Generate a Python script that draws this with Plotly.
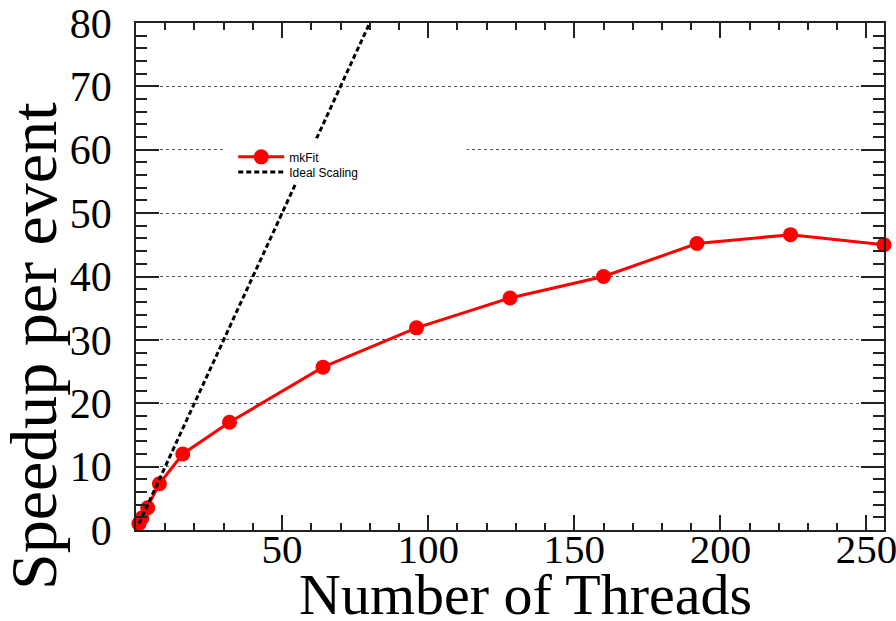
import plotly.graph_objects as go

# Thread counts and measured speedup per event
threads = [1, 2, 4, 8, 16, 32, 64, 96, 128, 160, 192, 224, 256]
mkfit_speedup = [1.0, 1.9, 3.5, 7.3, 12.0, 17.0, 25.7, 31.9, 36.6, 40.0, 45.2, 46.6, 45.0]
ideal_speedup = [1, 2, 4, 8, 16, 32, 64, 96, 128, 160, 192, 224, 256]

x_tick_vals = [0, 50, 100, 150, 200, 250]
x_tick_text = ["", "50", "100", "150", "200", "250"]
y_tick_vals = [0, 10, 20, 30, 40, 50, 60, 70, 80]

SERIF = "Liberation Serif"
AXIS_COLOR = "#222222"

fig = go.Figure()

fig.add_trace(go.Scatter(
    x=threads, y=mkfit_speedup, name="mkFit",
    mode="lines+markers",
    line=dict(color="#ff0000", width=3),
    marker=dict(color="#ff0000", size=15, symbol="circle"),
    cliponaxis=False, legend="legend",
))

fig.add_trace(go.Scatter(
    x=threads, y=ideal_speedup, name="Ideal Scaling",
    mode="lines",
    line=dict(color="black", width=3, dash="5px,3px"),
    legend="legend2",
))

# white box behind the legend
fig.add_shape(
    type="rect", xref="paper", yref="paper",
    x0=0.118, x1=0.442, y0=0.685, y1=0.772,
    fillcolor="white", line=dict(width=0), layer="above",
)

fig.update_xaxes(
    range=[0, 256], automargin=False,
    tickmode="array", tickvals=x_tick_vals, ticktext=x_tick_text,
    ticks="inside", ticklen=15, tickwidth=1.5, tickcolor=AXIS_COLOR,
    minor=dict(tickvals=list(range(10, 256, 10)), ticks="inside", ticklen=7,
               tickwidth=1.5, tickcolor=AXIS_COLOR, showgrid=False),
    showline=True, linecolor=AXIS_COLOR, linewidth=1.5, mirror="allticks",
    showgrid=False, zeroline=False,
    tickfont=dict(family=SERIF, size=41, color="black"),
    ticklabelstandoff=-18, ticklabeloverflow="allow",
)

fig.update_yaxes(
    range=[0, 80], automargin=False,
    tickmode="array", tickvals=y_tick_vals,
    ticks="inside", ticklen=23, tickwidth=1.5, tickcolor=AXIS_COLOR,
    minor=dict(tickvals=[v for v in range(2, 80, 2) if v % 10], ticks="inside",
               ticklen=11, tickwidth=1.5, tickcolor=AXIS_COLOR, showgrid=False),
    showline=True, linecolor=AXIS_COLOR, linewidth=1.5, mirror="allticks",
    showgrid=True, gridcolor="#555555", gridwidth=1, griddash="dot",
    zeroline=False,
    tickfont=dict(family=SERIF, size=42, color="black"),
    ticklabelstandoff=14, ticklabeloverflow="allow",
)

fig.add_annotation(
    text="Number of Threads", xref="paper", yref="paper",
    x=0.521, y=-0.128, xanchor="center", yanchor="middle",
    showarrow=False, font=dict(family=SERIF, size=58, color="black"),
)
fig.add_annotation(
    text="Speedup per event", xref="paper", yref="paper",
    x=-0.137, y=0.362, xanchor="center", yanchor="middle", textangle=-90,
    showarrow=False, font=dict(family=SERIF, size=66, color="black"),
)

legend_style = dict(
    xanchor="left", yanchor="middle",
    bgcolor="rgba(0,0,0,0)",
    font=dict(family="Liberation Sans", size=12, color="black"),
    itemwidth=46,
)

fig.update_layout(
    width=896, height=621,
    margin=dict(l=136, r=12, t=23, b=91),
    paper_bgcolor="white", plot_bgcolor="white",
    showlegend=True,
    legend=dict(x=0.13, y=0.736, **legend_style),
    legend2=dict(x=0.13, y=0.706, **legend_style),
)

fig.write_html("out.html")
